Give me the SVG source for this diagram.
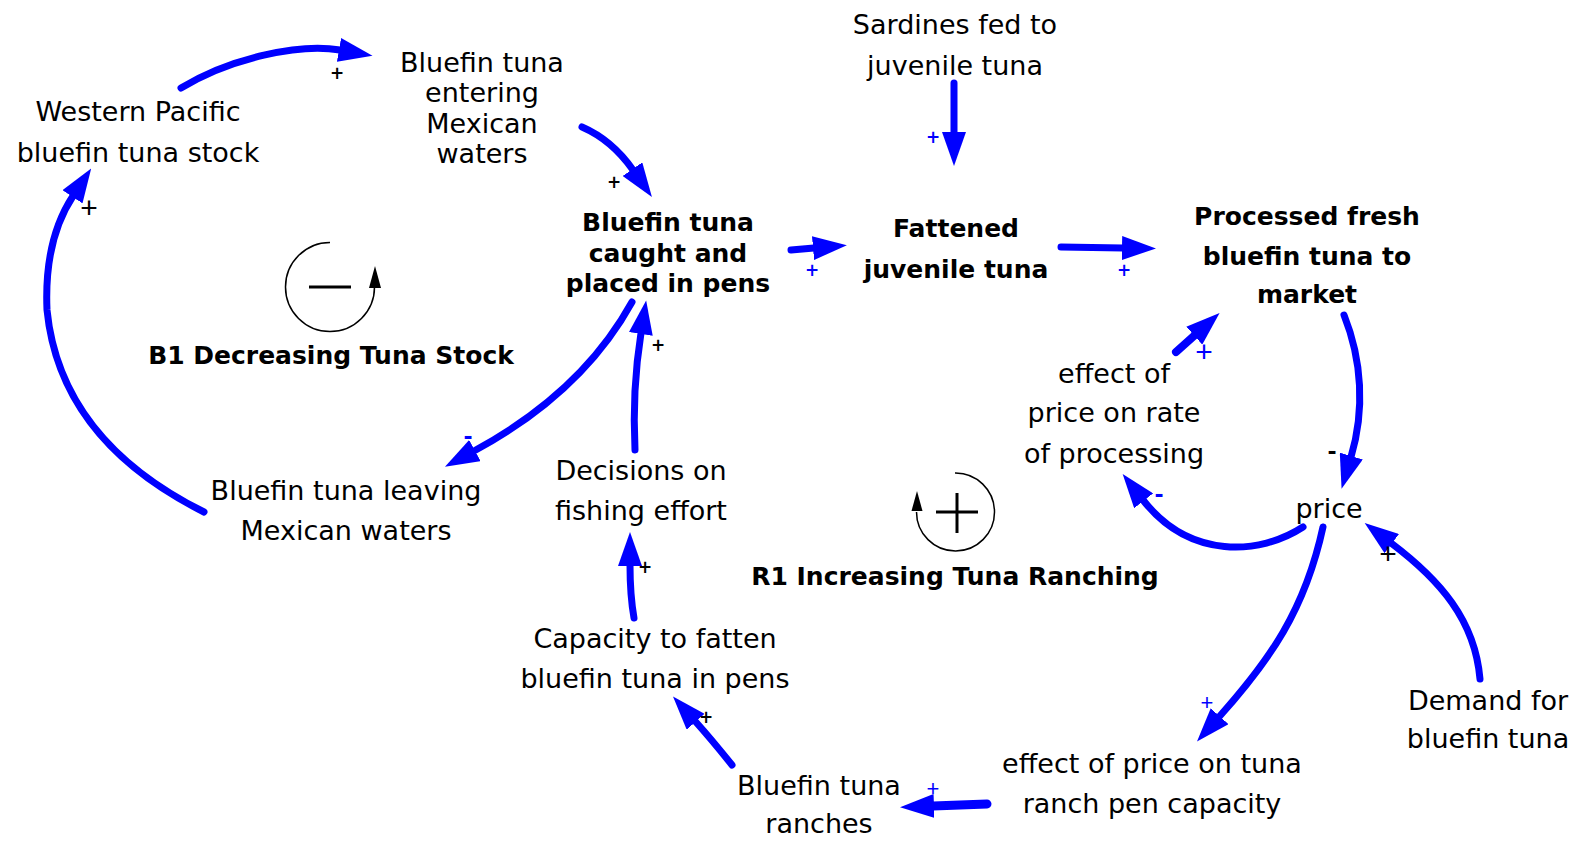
<svg xmlns="http://www.w3.org/2000/svg" width="1577" height="842" viewBox="0 0 1577 842">
<defs>
<style>
.t{font-family:"DejaVu Sans","Liberation Sans",sans-serif;font-size:27px;fill:#000;text-anchor:middle}
.b{font-family:"DejaVu Sans","Liberation Sans",sans-serif;font-size:25px;font-weight:bold;fill:#000;text-anchor:middle}
.c{fill:none;stroke:#0000ff;stroke-width:7;stroke-linecap:round;marker-end:url(#ah)}
.p{font-family:"DejaVu Sans","Liberation Sans",sans-serif;font-size:17px;font-weight:bold;text-anchor:middle;dominant-baseline:central}
.m{font-family:"DejaVu Sans","Liberation Sans",sans-serif;font-size:22px;font-weight:bold;text-anchor:middle;dominant-baseline:central}
.q{font-family:"Liberation Sans",sans-serif;font-size:30px;font-weight:normal;text-anchor:middle;dominant-baseline:central}
.qs{font-family:"Liberation Sans",sans-serif;font-size:22px;font-weight:normal;text-anchor:middle;dominant-baseline:central}
.k{fill:#000}
.u{fill:#0000ff}
.loop{fill:none;stroke:#000;stroke-width:1.5}
</style>
<marker id="ah" markerUnits="userSpaceOnUse" markerWidth="34" markerHeight="24" viewBox="0 0 34 24" refX="1" refY="12" orient="auto">
<path d="M0,0 L34,12 L0,24 z" fill="#0000ff"/>
</marker>
</defs>
<rect width="1577" height="842" fill="#fff"/>

<g id="connectors">
<path class="c" d="M181,88 C230,58 300,43 340,50"/>
<path class="c" d="M582,127 Q612,140 633,170"/>
<path class="c" d="M632,302 C600,360 550,410 474,451"/>
<path class="c" d="M204,512 Q60,440 47,310 Q44,240 73,196"/>
<path class="c" d="M635,450 Q632,390 641,333"/>
<path class="c" d="M634,618 Q630,595 630,565"/>
<path class="c" d="M732,765 Q712,740 695,721"/>
<path class="c" d="M987,804 L933,806" style="stroke-width:9"/>
<path class="c" d="M1323,527 C1305,610 1270,660 1219,717"/>
<path class="c" d="M1480,679 C1475,620 1440,580 1391,543"/>
<path class="c" d="M1303,527 C1260,555 1190,560 1143,500"/>
<path class="c" d="M1344,315 C1362,360 1365,410 1351,457"/>
<path class="c" d="M1176,352 L1195,335" style="stroke-width:8"/>
<path class="c" d="M791,250 L814,248"/>
<path class="c" d="M1061,247 L1123,248"/>
<path class="c" d="M954,83 L954,133"/>
</g>

<g id="polarities">
<text class="p k" x="337" y="73">+</text>
<text class="p k" x="614" y="182">+</text>
<text class="m u" x="468" y="436">-</text>
<text class="q k" x="89" y="207">+</text>
<text class="p k" x="658" y="345">+</text>
<text class="p k" x="645" y="567">+</text>
<text class="p k" x="706" y="717">+</text>
<text class="qs u" x="933" y="788">+</text>
<text class="qs u" x="1207" y="702">+</text>
<text class="q k" x="1388" y="553">+</text>
<text class="m u" x="1159" y="494">-</text>
<text class="m k" x="1332" y="451">-</text>
<text class="q u" x="1204" y="351">+</text>
<text class="p u" x="812" y="270">+</text>
<text class="p u" x="1124" y="270">+</text>
<text class="p u" x="933" y="137">+</text>
</g>

<g id="loop-B1">
<path class="loop" d="M330,242.5 A44.5,44.5 0 1 0 374.5,287"/>
<polygon points="375,266 369,288 381,288" fill="#000"/>
<line x1="309" y1="287" x2="351" y2="287" stroke="#000" stroke-width="3"/>
<text class="b" x="331" y="364">B1 Decreasing Tuna Stock</text>
</g>

<g id="loop-R1">
<path class="loop" d="M955,473 A39,39 0 1 1 916.5,512"/>
<polygon points="917,491 911.5,511 922.5,511" fill="#000"/>
<line x1="936" y1="512" x2="978" y2="512" stroke="#000" stroke-width="3"/>
<line x1="957" y1="493" x2="957" y2="533" stroke="#000" stroke-width="3"/>
<text class="b" x="955" y="585">R1 Increasing Tuna Ranching</text>
</g>

<g id="western-pacific"><text class="t" x="138" y="121">Western Pacific</text><text class="t" x="138" y="162">bluefin tuna stock</text></g>
<g id="entering"><text class="t" x="482" y="72">Bluefin tuna</text><text class="t" x="482" y="102">entering</text><text class="t" x="482" y="133">Mexican</text><text class="t" x="482" y="163">waters</text></g>
<g id="caught"><text class="b" x="668" y="231">Bluefin tuna</text><text class="b" x="668" y="262">caught and</text><text class="b" x="668" y="292">placed in pens</text></g>
<g id="sardines"><text class="t" x="955" y="34">Sardines fed to</text><text class="t" x="955" y="75">juvenile tuna</text></g>
<g id="fattened"><text class="b" x="956" y="237">Fattened</text><text class="b" x="956" y="278">juvenile tuna</text></g>
<g id="processed"><text class="b" x="1307" y="225">Processed fresh</text><text class="b" x="1307" y="265">bluefin tuna to</text><text class="b" x="1307" y="303">market</text></g>
<g id="effect-processing"><text class="t" x="1114" y="383">effect of</text><text class="t" x="1114" y="422">price on rate</text><text class="t" x="1114" y="463">of processing</text></g>
<g id="price"><text class="t" x="1329" y="518">price</text></g>
<g id="demand"><text class="t" x="1488" y="710">Demand for</text><text class="t" x="1488" y="748">bluefin tuna</text></g>
<g id="effect-ranch"><text class="t" x="1152" y="773">effect of price on tuna</text><text class="t" x="1152" y="813">ranch pen capacity</text></g>
<g id="ranches"><text class="t" x="819" y="795">Bluefin tuna</text><text class="t" x="819" y="833">ranches</text></g>
<g id="capacity"><text class="t" x="655" y="648">Capacity to fatten</text><text class="t" x="655" y="688">bluefin tuna in pens</text></g>
<g id="decisions"><text class="t" x="641" y="480">Decisions on</text><text class="t" x="641" y="520">fishing effort</text></g>
<g id="leaving"><text class="t" x="346" y="500">Bluefin tuna leaving</text><text class="t" x="346" y="540">Mexican waters</text></g>
</svg>
